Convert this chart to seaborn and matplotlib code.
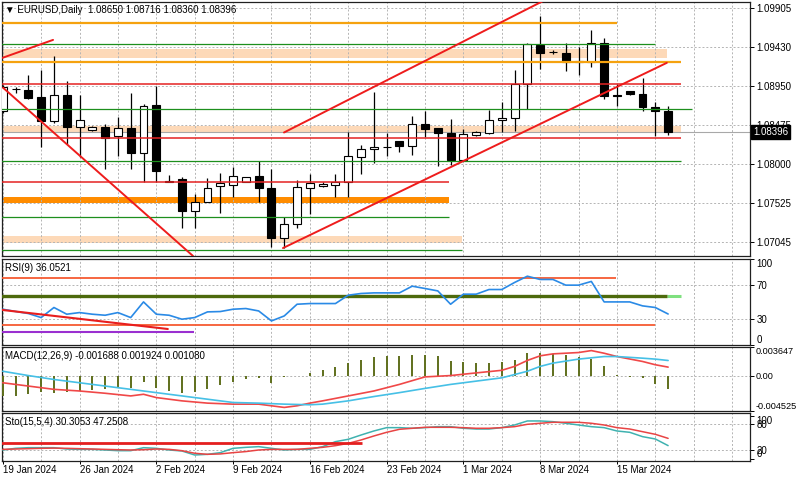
#!/usr/bin/env python3

from __future__ import annotations

import matplotlib

matplotlib.use("Agg")
import matplotlib.pyplot as plt
import matplotlib.transforms as mtransforms
import numpy as np
import pandas as pd
import seaborn as sns


# --- daily candles (bar index 0 = 19 Jan 2024, broker has Sunday bars) ---
OPEN = [1.08655, 1.08919, 1.08907, 1.08817, 1.08534, 1.08846, 1.08461, 1.08420, 1.08452, 1.08343,
        1.08440, 1.08136, 1.08728, 1.07800, 1.07816, 1.07426, 1.07539, 1.07730, 1.07751, 1.07783,
        1.07856, 1.07715, 1.07094, 1.07264, 1.07715, 1.07730, 1.07743, 1.07783, 1.08087, 1.08184,
        1.08213, 1.08278, 1.08221, 1.08494, 1.08440, 1.08379, 1.08055, 1.08360, 1.08379, 1.08546,
        1.08565, 1.08980, 1.09459, 1.09373, 1.09365, 1.09259, 1.09253, 1.09487, 1.08846, 1.08899,
        1.08859, 1.08704, 1.08650]
HIGH = [1.08972, 1.08947, 1.09094, 1.09154, 1.09325, 1.09020, 1.08846, 1.08473, 1.08494, 1.08574,
        1.08866, 1.08737, 1.08960, 1.07864, 1.07844, 1.07633, 1.07836, 1.07896, 1.07965, 1.07848,
        1.08035, 1.07946, 1.07350, 1.07803, 1.07876, 1.07783, 1.07885, 1.08388, 1.08238, 1.08878,
        1.08384, 1.08278, 1.08594, 1.08655, 1.08440, 1.08554, 1.08433, 1.08412, 1.08664, 1.08756,
        1.09151, 1.09483, 1.09812, 1.09394, 1.09479, 1.09437, 1.09637, 1.09547, 1.08980, 1.08899,
        1.09053, 1.08756, 1.08716]
LOW = [1.08631, 1.08874, 1.08795, 1.08209, 1.08501, 1.08250, 1.08087, 1.08412, 1.07946, 1.08095,
       1.07946, 1.07783, 1.07783, 1.07779, 1.07216, 1.07216, 1.07536, 1.07405, 1.07600, 1.07779,
       1.07539, 1.06992, 1.06972, 1.07223, 1.07398, 1.07722, 1.07600, 1.07597, 1.07885, 1.08014,
       1.08095, 1.08148, 1.08116, 1.08330, 1.07974, 1.07986, 1.08047, 1.08339, 1.08372, 1.08391,
       1.08412, 1.08676, 1.09163, 1.09352, 1.09134, 1.09085, 1.09194, 1.08798, 1.08715, 1.08850,
       1.08647, 1.08339, 1.08360]
CLOSE = [1.08947, 1.08917, 1.08805, 1.08525, 1.08846, 1.08461, 1.08542, 1.08452, 1.08323, 1.08440,
         1.08136, 1.08716, 1.07917, 1.07785, 1.07426, 1.07539, 1.07715, 1.07771, 1.07856, 1.07844,
         1.07715, 1.07094, 1.07264, 1.07722, 1.07771, 1.07755, 1.07783, 1.08095, 1.08189, 1.08216,
         1.08209, 1.08221, 1.08494, 1.08433, 1.08379, 1.08055, 1.08372, 1.08391, 1.08546, 1.08565,
         1.08980, 1.09467, 1.09357, 1.09371, 1.09253, 1.09253, 1.09479, 1.08829, 1.08838, 1.08859,
         1.08704, 1.08655, 1.08396]

DATE_BARS = [0, 6, 12, 18, 24, 30, 36, 42, 48]
DATE_LABELS = ["19 Jan 2024", "26 Jan 2024", "2 Feb 2024", "9 Feb 2024", "16 Feb 2024",
               "23 Feb 2024", "1 Mar 2024", "8 Mar 2024", "15 Mar 2024"]
PRICE_TICKS = [1.09905, 1.09430, 1.08950, 1.08475, 1.08000, 1.07525, 1.07045]
HEADER = "\u25bc EURUSD,Daily  1.08650 1.08716 1.08360 1.08396"

# --- drawn objects on the price chart: levels and where they stop (bar index) ---
ORANGE_LEVELS = [1.09730, 1.09252]
ORANGE_ENDS = [48.0, 53.0]
GREEN_LEVELS = [1.09465, 1.08680, 1.08043, 1.07353, 1.06952]
GREEN_ENDS = [51.0, 53.9, 53.0, 34.9, 35.9]
RED_LEVELS = [1.08978, 1.08318, 1.07783]
RED_ENDS = [53.0, 53.0, 34.9]
PEACH_ZONES = [(1.09300, 1.09410), (1.08388, 1.08467), (1.07037, 1.07122)]
PEACH_ENDS = [51.9, 53.0, 35.9]
ORANGE_ZONE = (1.07524, 1.07597)
ORANGE_ZONE_END = 34.9
TRENDLINES = [
    ((-0.02, 1.09300), (3.93, 1.09519)),
    ((0.02, 1.08935), (14.87, 1.06879)),
    ((21.98, 1.08388), (42.3, 1.10000)),
    ((21.9, 1.06976), (51.9, 1.09239)),
]

# --- RSI(9) ---
RSI = [41.6, 39.0, 36.6, 31.9, 43.6, 35.8, 37.7, 35.8, 34.6, 37.7,
       31.9, 50.1, 35.8, 34.6, 30.0, 31.9, 38.5, 38.9, 41.6, 42.4,
       39.6, 28.0, 33.8, 47.4, 48.2, 48.2, 48.2, 57.9, 59.9, 60.6,
       60.6, 60.6, 68.4, 65.7, 62.9, 47.4, 59.1, 59.1, 64.5, 64.5,
       72.7, 80.0, 76.2, 76.2, 69.6, 69.6, 73.9, 50.1, 50.1, 50.1,
       45.5, 43.6, 36.05]
RSI_LABEL = "RSI(9) 36.0521"
RSI_HIGH_LINE = (77.7, 47.9)
RSI_MID_LINE = (56.8, 51.9, 53.0)
RSI_LOW_LINE = (23.0, 51.0)
RSI_PURPLE_LINE = (15.0, 14.95)
RSI_TREND = ((-0.06, 40.8), (12.9, 18.6))

# --- MACD(12,26,9) ---
MACD_HIST = [-2.60, -2.60, -2.39, -2.10, -2.18, -2.10, -1.97, -1.84, -1.68, -1.55,
             -1.55, -0.84, -1.55, -1.97, -2.18, -2.10, -1.76, -1.26, -0.84, -0.42,
             -0.29, -0.92, -0.17, -0.08, 0.34, 0.75, 1.05, 1.59, 2.01, 2.35,
             2.52, 2.52, 2.64, 2.64, 2.52, 1.80, 1.68, 1.59, 1.59, 1.68,
             2.01, 2.85, 2.94, 2.77, 2.64, 2.43, 2.10, 1.17, 0.13, -0.17,
             -0.29, -1.13, -1.688]
MACD_RED_BARS = [0, 2, 4, 6, 8, 10, 11, 12, 14, 16, 18, 20, 21, 22, 23, 24, 25, 27, 29, 31,
                 33, 35, 37, 39, 40, 41, 42, 43, 45, 46, 47, 48, 50, 51, 52]
MACD_RED = [-0.92, -1.34, -1.76, -1.97, -2.26, -2.60, -2.39, -2.81, -3.23, -3.52,
            -3.65, -3.65, -3.86, -4.07, -3.86, -3.52, -3.23, -2.60, -1.97, -1.13,
            -0.17, 0.00, 0.34, 0.67, 1.17, 1.93, 2.52, 2.77, 2.94, 3.19,
            2.85, 2.43, 1.80, 1.38, 1.08]
MACD_CYAN_BARS = [0, 2, 4, 6, 8, 10, 12, 14, 16, 18, 20, 22, 24, 25, 27, 29, 31, 33, 35, 37,
                  39, 40, 41, 42, 43, 45, 47, 48, 50, 51, 52]
MACD_CYAN = [0.55, 0.00, -0.50, -0.92, -1.34, -1.76, -2.18, -2.60, -3.02, -3.44,
             -3.52, -3.65, -3.73, -3.65, -3.23, -2.68, -2.18, -1.64, -1.13, -0.71,
             -0.29, 0.13, 0.55, 1.17, 1.59, 2.10, 2.43, 2.43, 2.22, 2.10, 1.924]
MACD_RANGE = (-0.004525, 0.003647)
MACD_LABEL = "MACD(12,26,9) -0.001688 0.001924 0.001080"

# --- Stochastic(15,5,4) ---
STO_K = [20.1, 24.0, 25.5, 25.5, 25.5, 22.4, 21.6, 21.6, 20.1, 18.5,
         18.5, 25.5, 24.0, 20.1, 17.8, 8.4, 10.0, 13.9, 24.0, 26.3,
         27.9, 24.0, 20.1, 21.6, 21.6, 27.9, 39.6, 45.1, 55.1, 64.5,
         72.3, 72.3, 70.8, 72.3, 74.6, 74.6, 70.8, 69.1, 69.1, 72.3,
         78.5, 87.9, 87.9, 86.3, 82.5, 78.5, 74.6, 72.3, 64.5, 61.4,
         51.3, 45.8, 30.3]
STO_D = [21.6, 22.4, 23.2, 24.0, 24.5, 24.0, 23.2, 22.4, 21.6, 20.8,
         20.1, 20.8, 22.4, 21.6, 18.5, 12.5, 10.0, 10.9, 13.9, 16.4,
         20.1, 21.6, 21.6, 21.6, 24.0, 26.3, 30.2, 35.6, 43.5, 52.8,
         61.4, 68.4, 70.8, 73.1, 73.1, 73.1, 72.3, 70.8, 70.8, 72.3,
         74.6, 80.1, 82.5, 84.8, 84.8, 84.8, 82.5, 78.5, 72.3, 69.1,
         62.9, 56.7, 47.25]
STO_LABEL = "Sto(15,5,4) 30.3053 47.2508"
STO_LINE = (35.7, 28.1)

X_LIMITS = (-0.06, 58.4)
GRID_BARS = list(range(0, 58, 3))
GRID_STYLE = dict(color="#b4b4b4", linestyle=(0, (2, 2)), linewidth=0.7, zorder=1)
FIG_W, FIG_H = 800, 479
AXIS_FONT = 7.0


def px_axes(fig, top: float, bottom: float, left: float = 2, right: float = 750):
    return fig.add_axes([left / FIG_W, 1 - bottom / FIG_H, (right - left) / FIG_W, (bottom - top) / FIG_H])


def style_panel(ax) -> None:
    ax.set_facecolor("white")
    ax.set_xlim(*X_LIMITS)
    for spine in ax.spines.values():
        spine.set_color("#202020")
        spine.set_linewidth(0.9)
    for b in GRID_BARS:
        ax.axvline(b, **GRID_STYLE)
    ax.yaxis.tick_right()
    ax.tick_params(axis="y", which="both", left=False, right=True, length=3, width=0.7,
                   labelsize=AXIS_FONT, pad=1.5, colors="black")
    ax.tick_params(axis="x", bottom=False, labelbottom=False)


def finish_ticks(ax, ticks, labels) -> None:
    ax.set_yticks(ticks)
    ax.set_yticklabels(labels)
    items = ax.get_yticklabels()
    items[0].set_va("bottom")
    items[-1].set_va("top")
    ax.set_xlabel("")
    ax.set_ylabel("")


def panel_title(ax, text: str, dy: int) -> None:
    ax.annotate(text, xy=(0, 1), xycoords="axes fraction", xytext=(3, -dy),
                textcoords="offset pixels", va="top", ha="left", fontsize=7, color="black", zorder=6)


def draw_price(ax) -> None:
    style_panel(ax)
    ax.set_ylim(1.06879, 1.09982)
    for p in PRICE_TICKS:
        ax.axhline(p, **GRID_STYLE)

    x0 = X_LIMITS[0] - 1
    for (lo, hi), end in zip(PEACH_ZONES, PEACH_ENDS):
        ax.fill_between([x0, end], lo, hi, color="#fdd9b8", lw=0, zorder=0.8)
    ax.fill_between([x0, ORANGE_ZONE_END], ORANGE_ZONE[0], ORANGE_ZONE[1], color="#ff8c00", lw=0, zorder=0.8)

    # candles
    x = np.arange(len(OPEN))
    o = np.asarray(OPEN)
    c = np.asarray(CLOSE)
    ax.vlines(x, LOW, HIGH, color="black", lw=0.9, zorder=3)
    colors = np.where(c > o, "white", "black")
    ax.bar(x, np.abs(c - o), bottom=np.minimum(o, c), width=0.62, color=colors,
           edgecolor="black", linewidth=0.8, zorder=3.5)

    ax.axhline(CLOSE[-1], color="#a8a8a8", lw=0.8, zorder=2)
    ax.hlines(ORANGE_LEVELS, x0, ORANGE_ENDS, color="#f5a20f", lw=1.6, zorder=4)
    ax.hlines(GREEN_LEVELS, x0, GREEN_ENDS, color="#1d8f1d", lw=0.9, zorder=4)
    ax.hlines(RED_LEVELS, x0, RED_ENDS, color="#e42222", lw=1.1, zorder=4)
    for (xa, ya), (xb, yb) in TRENDLINES:
        sns.lineplot(x=[xa, xb], y=[ya, yb], ax=ax, color="#ee1c1c", lw=1.4, zorder=4.5)

    ax.set_yticks(PRICE_TICKS)
    ax.set_yticklabels([f"{p:.5f}" for p in PRICE_TICKS])
    ax.set_xlabel("")
    ax.set_ylabel("")
    trans = mtransforms.blended_transform_factory(ax.transAxes, ax.transData)
    ax.text(1.004, CLOSE[-1], f"{CLOSE[-1]:.5f}", transform=trans, ha="left", va="center",
            fontsize=AXIS_FONT, color="white", zorder=7,
            bbox=dict(boxstyle="square,pad=0.18", fc="black", ec="black"))
    panel_title(ax, HEADER, 3)


def draw_rsi(ax) -> None:
    style_panel(ax)
    ax.set_ylim(0, 100)
    for lvl in (70, 30):
        ax.axhline(lvl, **GRID_STYLE)
    x0 = X_LIMITS[0] - 1
    ax.hlines(RSI_HIGH_LINE[0], x0, RSI_HIGH_LINE[1], color="#f65a32", lw=1.3, zorder=3)
    ax.hlines(RSI_LOW_LINE[0], x0, RSI_LOW_LINE[1], color="#f65a32", lw=1.3, zorder=3)
    ax.hlines(RSI_MID_LINE[0], RSI_MID_LINE[1], RSI_MID_LINE[2], color="#7fe07f", lw=2.2, zorder=3)
    ax.hlines(RSI_MID_LINE[0], x0, RSI_MID_LINE[1], color="#4d6a0c", lw=2.4, zorder=3.1)
    ax.hlines(RSI_PURPLE_LINE[0], x0, RSI_PURPLE_LINE[1], color="#9a2fd0", lw=1.5, zorder=3)
    sns.lineplot(x=np.arange(len(RSI)), y=RSI, ax=ax, color="#2a8ae6", lw=1.2, zorder=4)
    (xa, ya), (xb, yb) = RSI_TREND
    sns.lineplot(x=[xa, xb], y=[ya, yb], ax=ax, color="#e81e1e", lw=1.5, zorder=4.5)
    finish_ticks(ax, [0, 30, 70, 100], ["0", "30", "70", "100"])
    panel_title(ax, RSI_LABEL, 4)


def draw_macd(ax) -> None:
    style_panel(ax)
    ax.set_ylim(*MACD_RANGE)
    ax.axhline(0, **GRID_STYLE)
    hist = np.asarray(MACD_HIST) * 1e-3
    ax.vlines(np.arange(len(hist)), 0, hist, color="#5f6f1c", lw=1.4, zorder=3)
    frame = pd.DataFrame({"bar": MACD_RED_BARS, "value": np.asarray(MACD_RED) * 1e-3})
    sns.lineplot(data=frame, x="bar", y="value", ax=ax, color="#f04848", lw=1.2, zorder=4)
    frame = pd.DataFrame({"bar": MACD_CYAN_BARS, "value": np.asarray(MACD_CYAN) * 1e-3})
    sns.lineplot(data=frame, x="bar", y="value", ax=ax, color="#46c0e6", lw=1.2, zorder=4)
    finish_ticks(ax, [MACD_RANGE[0], 0.0, MACD_RANGE[1]],
                 [f"{MACD_RANGE[0]:.6f}", "0.00", f"{MACD_RANGE[1]:.6f}"])
    ax.tick_params(axis="y", labelsize=6.6, pad=1)
    panel_title(ax, MACD_LABEL, 4)


def draw_sto(ax) -> None:
    style_panel(ax)
    ax.set_ylim(-5.6, 106.5)
    for lvl in (80, 20):
        ax.axhline(lvl, **GRID_STYLE)
    x = np.arange(len(STO_K))
    sns.lineplot(x=x, y=STO_K, ax=ax, color="#3fb2b0", lw=1.1, zorder=3)
    sns.lineplot(x=x, y=STO_D, ax=ax, color="#e84444", lw=1.1, zorder=3.2)
    ax.hlines(STO_LINE[0], X_LIMITS[0] - 1, STO_LINE[1], color="#e41e1e", lw=2.0, zorder=4)
    finish_ticks(ax, [0, 20, 80, 100], ["0", "20", "80", "100"])
    ax.set_xticks(DATE_BARS)
    ax.set_xticklabels(DATE_LABELS, ha="left")
    ax.tick_params(axis="x", bottom=True, labelbottom=True, length=2, width=0.7,
                   labelsize=7, pad=1, colors="black")
    panel_title(ax, STO_LABEL, 4)


def main() -> None:
    sns.set_theme(style="white")
    plt.rcParams["font.family"] = ["Liberation Sans", "DejaVu Sans"]
    plt.rcParams["axes.unicode_minus"] = False

    fig = plt.figure(figsize=(FIG_W / 100, FIG_H / 100), dpi=100)
    fig.patch.set_facecolor("white")
    draw_price(px_axes(fig, 2, 256))
    draw_rsi(px_axes(fig, 259, 345))
    draw_macd(px_axes(fig, 347, 411))
    draw_sto(px_axes(fig, 413, 461))
    fig.savefig("out.png", dpi=100, facecolor="white")
    plt.close(fig)


if __name__ == "__main__":
    main()
